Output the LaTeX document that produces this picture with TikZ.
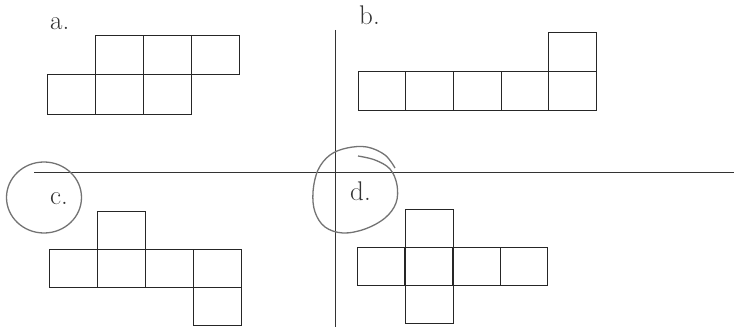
\documentclass[tikz,border=0pt]{standalone}
\begin{document}
\begin{tikzpicture}[x=1pt,y=-1pt,
  cell/.style={draw=black!85,line width=0.9pt},
  rule/.style={draw=black!80,line width=1pt},
  ring/.style={draw=black!55,line width=1.3pt},
  lbl/.style={anchor=base west,inner sep=0pt,text=black!80,font=\fontsize{27}{27}\selectfont}]
\useasboundingbox (0,0) rectangle (734,329);
% separating lines
\coordinate (vt) at (335,30);
\coordinate (vb) at (335,327);
\coordinate (hl) at (34,172.5);
\coordinate (hr) at (734,172.5);
\draw[rule] (vt) -- (vb);
\draw[rule] (hl) -- (hr);
% labels
\node[lbl] (la) at (50,30) {a.};
\node[lbl] (lb) at (359,25) {b.};
\node[lbl] (lc) at (50,204) {c.};
\node[lbl] (ld) at (350,200) {d.};
% circles
\draw[ring] (44,197.5) ellipse [x radius=37.5, y radius=35.5];
\draw[ring] plot[smooth, tension=0.6] coordinates {(358,156) (375,160) (390,169) (397,185) (396,203) (385,218) (365,229) (343,233) (325,227) (315,212) (313,192) (318,170) (330,155) (347,148) (367,147) (385,155) (395,168)};
% net a
\foreach \x in {95,143,191} \draw[cell] (\x,35) rectangle ++(48,39);
\foreach \x in {47,95,143} \draw[cell] (\x,74) rectangle ++(48,40);
% net b
\draw[cell] (548,32) rectangle ++(48.5,39);
\foreach \x in {358,405.7,453.4,501.1,548.8} \draw[cell] (\x,71) rectangle ++(47.7,39);
% net c
\draw[cell] (97,211) rectangle ++(48,38);
\foreach \x in {49,97,145,193} \draw[cell] (\x,249) rectangle ++(48,38);
\draw[cell] (193,287) rectangle ++(48,38);
% net d
\draw[cell] (405,209) rectangle ++(48,38);
\foreach \x in {357,405,453,500} \draw[cell] (\x,247) rectangle ++(47.5,38);
\draw[cell] (405,285) rectangle ++(48,38);
\end{tikzpicture}
\end{document}
